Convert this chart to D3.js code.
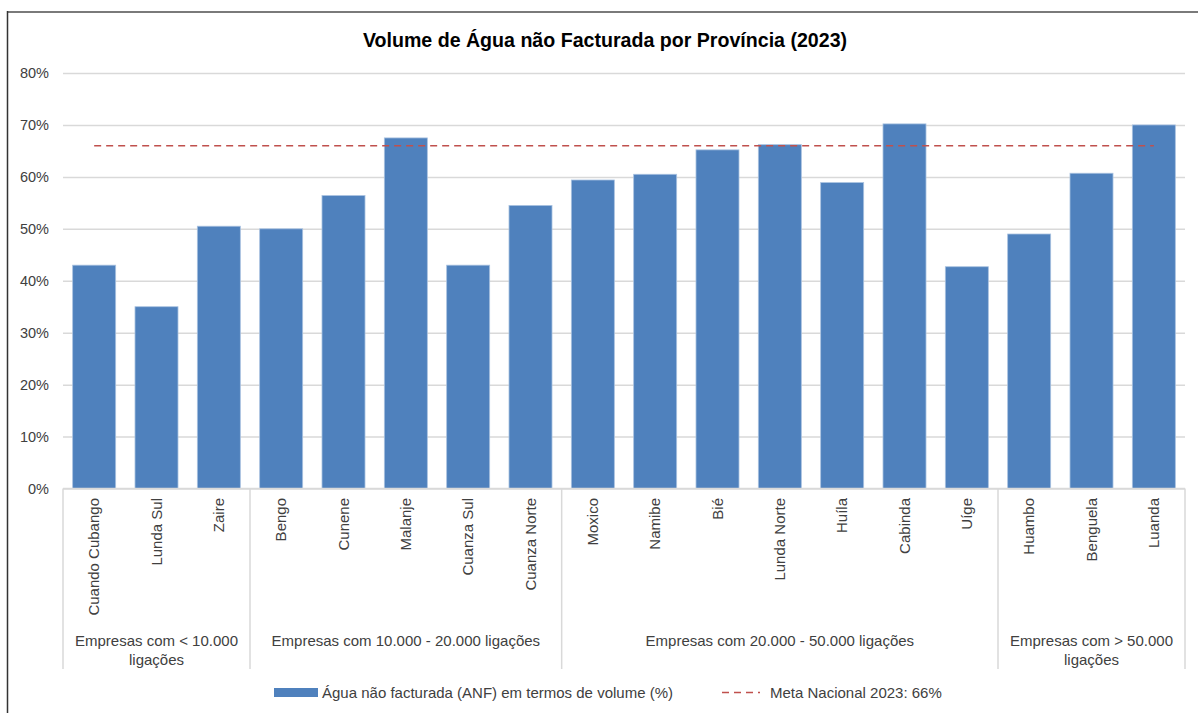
<!DOCTYPE html>
<html lang="pt">
<head>
<meta charset="utf-8">
<title>Volume de Água não Facturada por Província (2023)</title>
<script src="https://cdn.jsdelivr.net/npm/d3@7"></script>
<style>
  html, body { margin: 0; padding: 0; background: #ffffff; }
  svg { display: block; font-family: "Liberation Sans", Arial, sans-serif; }
</style>
</head>
<body>
<svg id="chart" width="1198" height="713"></svg>
<script>
// Provinces, in drawing order
const provinces = [
  "Cuando Cubango", "Lunda Sul", "Zaire",
  "Bengo", "Cunene", "Malanje", "Cuanza Sul", "Cuanza Norte",
  "Moxico", "Namibe", "Bié", "Lunda Norte", "Huíla", "Cabinda", "Uíge",
  "Huambo", "Benguela", "Luanda"
];

// Non-revenue water, % of volume
const anfValues = [
  43.0, 35.0, 50.5,
  50.0, 56.4, 67.5, 43.0, 54.5,
  59.4, 60.5, 65.2, 66.2, 58.9, 70.2, 42.7,
  49.0, 60.7, 70.0
];

// Company size groups and how many provinces fall in each
const groupLabels = [
  "Empresas com < 10.000 ligações",
  "Empresas com 10.000 - 20.000 ligações",
  "Empresas com 20.000 - 50.000 ligações",
  "Empresas com > 50.000 ligações"
];
const groupSizes = [3, 5, 7, 3];

// National target
const nationalTarget = 66;

const yTicks = [0, 10, 20, 30, 40, 50, 60, 70, 80];

const seriesNames = [
  "Água não facturada (ANF) em termos de volume (%)",
  "Meta Nacional 2023: 66%"
];

const svg = d3.select("#chart");
const textColor = "#404040";
const gridColor = "#d9d9d9";
const barColor = "#4f81bd";
const targetColor = "#c0504d";
const labelSize = 15;

const plot = { left: 63, right: 1185, top: 73, bottom: 488.5 };

const x = d3.scaleBand()
  .domain(provinces)
  .range([plot.left, plot.right])
  .paddingInner(0.31)
  .paddingOuter(0.155);

const y = d3.scaleLinear()
  .domain([0, 80])
  .range([plot.bottom, plot.top]);

// Frame
svg.append("line")
  .attr("x1", 7).attr("x2", 1198).attr("y1", 12).attr("y2", 12)
  .attr("stroke", "#7a7a7a").attr("stroke-width", 2);
svg.append("line")
  .attr("x1", 7.5).attr("x2", 7.5).attr("y1", 11).attr("y2", 713)
  .attr("stroke", "#333333").attr("stroke-width", 1.5);

// Title
svg.append("text")
  .attr("x", 605).attr("y", 47)
  .attr("text-anchor", "middle")
  .attr("font-size", 19.6).attr("font-weight", "bold")
  .attr("fill", "#000000")
  .text("Volume de Água não Facturada por Província (2023)");

// Y axis with gridlines
const yAxis = d3.axisLeft(y)
  .tickValues(yTicks)
  .tickSize(-(plot.right - plot.left))
  .tickPadding(14)
  .tickFormat(d => d + "%");

const gy = svg.append("g")
  .attr("transform", `translate(${plot.left},0)`)
  .call(yAxis);
gy.select(".domain").remove();
gy.selectAll(".tick line")
  .attr("stroke", gridColor).attr("stroke-width", 1.5);
gy.selectAll(".tick text")
  .attr("fill", textColor)
  .attr("font-size", 14.5)
  .attr("font-family", "Liberation Sans, Arial, sans-serif");

// Bars
svg.append("g")
  .selectAll("rect")
  .data(provinces.map((p, i) => ({ p, v: anfValues[i] })))
  .join("rect")
  .attr("x", d => x(d.p))
  .attr("width", x.bandwidth())
  .attr("y", d => y(d.v))
  .attr("height", d => y(0) - y(d.v))
  .attr("fill", barColor)
  .attr("stroke", "#a9c2e0")
  .attr("stroke-width", 0.8);

// Target line, centre of first category to centre of last
const targetLine = d3.line()
  .x(d => x(d) + x.bandwidth() / 2)
  .y(() => y(nationalTarget));
svg.append("path")
  .datum([provinces[0], provinces[provinces.length - 1]])
  .attr("d", targetLine)
  .attr("fill", "none")
  .attr("stroke", targetColor)
  .attr("stroke-width", 1.6)
  .attr("stroke-dasharray", "7,5");

// Category axis: baseline and group separators
const axisBottom = 669;
svg.append("line")
  .attr("x1", plot.left).attr("x2", plot.right)
  .attr("y1", plot.bottom).attr("y2", plot.bottom)
  .attr("stroke", gridColor).attr("stroke-width", 1.5);

const step = x.step();
let start = 0;
const groups = groupLabels.map((label, i) => {
  const g = { label, x0: plot.left + start * step, x1: plot.left + (start + groupSizes[i]) * step };
  start += groupSizes[i];
  return g;
});
const boundaries = [plot.left].concat(groups.map(g => g.x1));
svg.append("g")
  .selectAll("line")
  .data(boundaries)
  .join("line")
  .attr("x1", d => d).attr("x2", d => d)
  .attr("y1", plot.bottom).attr("y2", axisBottom)
  .attr("stroke", gridColor).attr("stroke-width", 1.5);

// Province labels, rotated
svg.append("g")
  .selectAll("text")
  .data(provinces)
  .join("text")
  .attr("transform", d => `translate(${x(d) + x.bandwidth() / 2},498) rotate(-90)`)
  .attr("text-anchor", "end")
  .attr("dy", "0.35em")
  .attr("font-size", labelSize)
  .attr("fill", textColor)
  .text(d => d);

// Group labels, wrapped to the group width
const groupText = svg.append("g")
  .selectAll("text")
  .data(groups)
  .join("text")
  .attr("x", d => (d.x0 + d.x1) / 2)
  .attr("y", 646)
  .attr("text-anchor", "middle")
  .attr("font-size", labelSize)
  .attr("fill", textColor);

groupText.each(function (d) {
  const t = d3.select(this);
  const maxW = d.x1 - d.x0 - 10;
  const words = d.label.split(" ");
  const lines = [];
  let line = [];
  const probe = t.append("tspan");
  words.forEach(w => {
    const trial = line.concat(w).join(" ");
    probe.text(trial);
    if (probe.node().getComputedTextLength() > maxW && line.length) {
      lines.push(line.join(" "));
      line = [w];
    } else {
      line.push(w);
    }
  });
  lines.push(line.join(" "));
  probe.remove();
  lines.forEach((l, i) => {
    t.append("tspan")
      .attr("x", (d.x0 + d.x1) / 2)
      .attr("dy", i === 0 ? 0 : 19)
      .text(l);
  });
});

// Legend
const legend = svg.append("g");
legend.append("rect")
  .attr("x", 274).attr("y", 688).attr("width", 44).attr("height", 9)
  .attr("fill", barColor);
legend.append("text")
  .attr("x", 322).attr("y", 697.5)
  .attr("font-size", labelSize).attr("fill", textColor)
  .text(seriesNames[0]);
legend.append("line")
  .attr("x1", 722).attr("x2", 760).attr("y1", 692.5).attr("y2", 692.5)
  .attr("stroke", targetColor).attr("stroke-width", 1.6)
  .attr("stroke-dasharray", "7,5");
legend.append("text")
  .attr("x", 770).attr("y", 697.5)
  .attr("font-size", labelSize).attr("fill", textColor)
  .text(seriesNames[1]);
</script>
</body>
</html>
